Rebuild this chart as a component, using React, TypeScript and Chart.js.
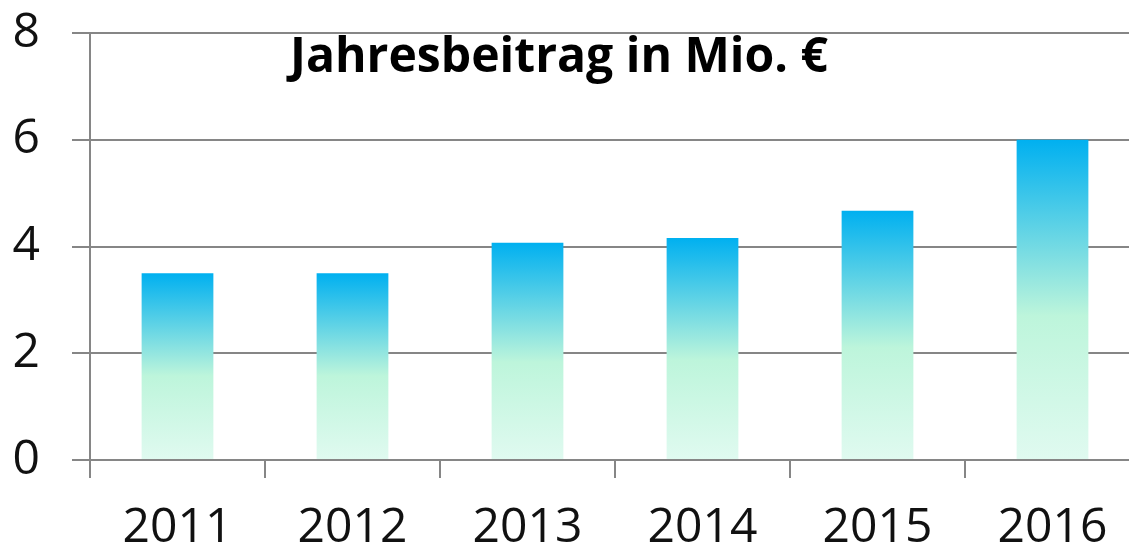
import React, { useEffect, useRef } from "react";
import { Chart, registerables } from "chart.js";

Chart.register(...registerables);

const categories = ["2011", "2012", "2013", "2014", "2015", "2016"];
const values = [3.5, 3.5, 4.07, 4.16, 4.67, 6.0];
const yTicks = [0, 2, 4, 6, 8];
const titleText = "Jahresbeitrag in Mio. €";

const GRID = "#868686";

const titlePlugin = {
  id: "innerTitle",
  afterDraw(chart: any) {
    const ctx = chart.ctx as CanvasRenderingContext2D;
    ctx.save();
    ctx.font = "bold 48px 'Open Sans', sans-serif";
    const w = ctx.measureText(titleText).width;
    const targetW = 538;
    ctx.translate(290, 72);
    ctx.scale(targetW / w, 1);
    ctx.textBaseline = "alphabetic";
    ctx.textAlign = "left";
    ctx.fillStyle = "#000";
    ctx.fillText(titleText, 0, 0);
    ctx.restore();
  },
};

export default function App() {
  const ref = useRef<HTMLCanvasElement | null>(null);

  useEffect(() => {
    document.documentElement.style.overflow = "hidden";
    document.body.style.overflow = "hidden";
    const canvas = ref.current!;
    const chart = new Chart(canvas, {
      type: "bar",
      data: {
        labels: categories,
        datasets: [
          {
            data: values,
            barPercentage: 0.41,
            categoryPercentage: 1,
            borderWidth: 0,
            backgroundColor: (c: any) => {
              const ch = c.chart;
              const y = ch.scales?.y;
              if (!y || c.parsed == null) return "#7fdde0";
              const top = y.getPixelForValue(c.parsed.y);
              const bottom = y.getPixelForValue(0);
              if (!isFinite(top) || !isFinite(bottom) || top === bottom) return "#7fdde0";
              const g = ch.ctx.createLinearGradient(0, top, 0, bottom);
              g.addColorStop(0, "#00B0F0");
              g.addColorStop(0.55, "#BDF5DB");
              g.addColorStop(1, "#E0FAF0");
              return g;
            },
          },
        ],
      },
      options: {
        responsive: false,
        animation: false,
        layout: { padding: { top: 33, left: 0, right: 0, bottom: 0 } },
        plugins: {
          legend: { display: false },
          tooltip: { enabled: false },
          title: { display: false },
        },
        scales: {
          x: {
            offset: true,
            grid: {
              offset: true,
              drawOnChartArea: false,
              drawTicks: true,
              tickLength: 18,
              color: GRID,
              lineWidth: 2,
            },
            border: { display: true, color: GRID, width: 2 },
            ticks: {
              color: "#111",
              padding: 22,
              maxRotation: 0,
              font: { family: "'Open Sans', sans-serif", size: 48 },
            },
            afterFit: (s: any) => {
              s.height = 88;
              s.paddingLeft = 0;
              s.paddingRight = 0;
            },
          },
          y: {
            min: 0,
            max: 8,
            afterBuildTicks: (s: any) => {
              s.ticks = yTicks.map((v) => ({ value: v }));
            },
            grid: {
              color: GRID,
              lineWidth: 2,
              tickLength: 18,
              drawTicks: true,
            },
            border: { display: true, color: GRID, width: 2 },
            ticks: {
              color: "#111",
              padding: 32,
              font: { family: "'Open Sans', sans-serif", size: 48 },
            },
            afterFit: (s: any) => {
              s.width = 90;
              s.paddingTop = 0;
              s.paddingBottom = 0;
            },
          },
        },
      },
      plugins: [titlePlugin],
    });
    return () => chart.destroy();
  }, []);

  return (
    <div style={{ position: "fixed", left: 0, top: 0, width: 1140, height: 548, background: "#fff" }}>
      <canvas ref={ref} width={1140} height={548} style={{ display: "block" }} />
    </div>
  );
}
